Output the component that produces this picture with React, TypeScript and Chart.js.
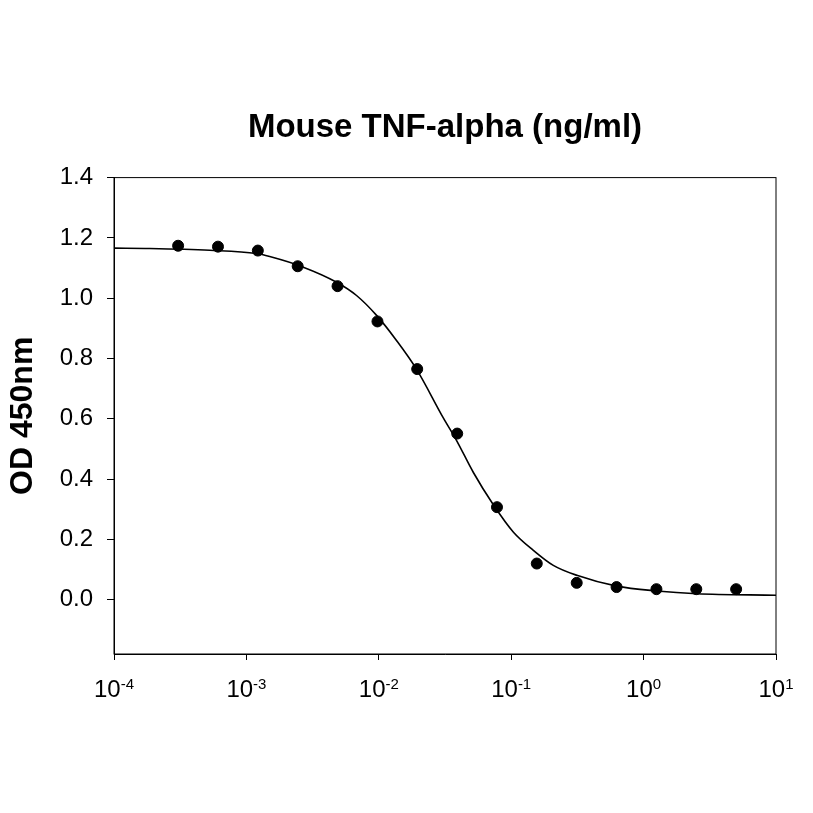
import { useEffect, useRef } from "react";
import { Chart, registerables } from "chart.js";

Chart.register(...registerables);

// measured points (ng/ml, OD 450nm)
const concentrations = [0.000305, 0.00061, 0.00122, 0.00244, 0.00488, 0.00977, 0.0195, 0.0391, 0.0781, 0.156, 0.3125, 0.625, 1.25, 2.5, 5];
const odValues = [1.174, 1.171, 1.158, 1.106, 1.04, 0.923, 0.765, 0.551, 0.307, 0.12, 0.056, 0.042, 0.035, 0.035, 0.035];

// fitted curve
const curveX = [1e-4, 1.86e-4, 5.28e-4, 1.19e-3, 1.5e-3, 2.69e-3, 4.8e-3, 6.79e-3, 9.62e-3, 1.36e-2, 1.93e-2, 3.07e-2, 3.87e-2, 5.18e-2, 7.33e-2, 0.104, 0.147, 0.208, 0.313, 0.627, 1.26, 2.52, 10];
const curveY = [1.166, 1.165, 1.159, 1.148, 1.138, 1.103, 1.053, 1.009, 0.943, 0.86, 0.764, 0.603, 0.528, 0.422, 0.315, 0.224, 0.164, 0.114, 0.081, 0.045, 0.029, 0.02, 0.015];

const xTicks = [1e-4, 1e-3, 1e-2, 1e-1, 1, 10];
const xExponents = ["-4", "-3", "-2", "-1", "0", "1"];
const yTicks = [0, 0.2, 0.4, 0.6, 0.8, 1.0, 1.2, 1.4];

const FONT = "Arial, 'Liberation Sans', sans-serif";

const framePlugin = {
  id: "frame",
  afterDraw(chart: any) {
    const { ctx, chartArea } = chart;
    ctx.save();
    ctx.strokeStyle = "#000";
    ctx.lineWidth = 1;
    ctx.strokeRect(chartArea.left, chartArea.top, chartArea.right - chartArea.left, chartArea.bottom - chartArea.top);

    // x tick labels with superscript exponents
    const xs = chart.scales.x;
    ctx.fillStyle = "#000";
    ctx.textBaseline = "alphabetic";
    ctx.textAlign = "left";
    xTicks.forEach((v, i) => {
      const px = xs.getPixelForValue(v);
      ctx.font = `24px ${FONT}`;
      const wBase = ctx.measureText("10").width;
      ctx.font = `15px ${FONT}`;
      const wExp = ctx.measureText(xExponents[i]).width;
      const start = px - (wBase + wExp) / 2;
      ctx.font = `24px ${FONT}`;
      ctx.fillText("10", start, 697);
      ctx.font = `15px ${FONT}`;
      ctx.fillText(xExponents[i], start + wBase, 689);
    });
    ctx.restore();
  },
};

export default function App() {
  const canvasRef = useRef<HTMLCanvasElement>(null);
  const chartRef = useRef<Chart | null>(null);

  useEffect(() => {
    document.body.style.margin = "0";
    if (!canvasRef.current) return;
    if (chartRef.current) chartRef.current.destroy();

    chartRef.current = new Chart(canvasRef.current, {
      type: "scatter",
      data: {
        datasets: [
          {
            type: "line",
            data: curveX.map((x, i) => ({ x, y: curveY[i] })),
            borderColor: "#000",
            borderWidth: 1.6,
            pointRadius: 0,
            cubicInterpolationMode: "monotone",
            fill: false,
          },
          {
            data: concentrations.map((x, i) => ({ x, y: odValues[i] })),
            backgroundColor: "#000",
            borderColor: "#000",
            pointRadius: 5.5,
            showLine: false,
          },
        ],
      },
      options: {
        responsive: false,
        animation: false,
        layout: { padding: { left: 0, top: 0, right: 37, bottom: 0 } },
        plugins: {
          legend: { display: false },
          tooltip: { enabled: false },
          title: {
            display: true,
            text: "Mouse TNF-alpha (ng/ml)",
            color: "#000",
            fullSize: false,
            font: { family: FONT, size: 33, weight: "bold" },
            padding: { top: 108, bottom: 30 },
          },
        },
        scales: {
          x: {
            type: "logarithmic",
            min: 1e-4,
            max: 10,
            afterBuildTicks: (s: any) => {
              s.ticks = xTicks.map((value) => ({ value }));
            },
            afterFit: (s: any) => {
              s.height = 159;
            },
            ticks: { display: false },
            grid: { drawOnChartArea: false, drawTicks: true, tickLength: 6, color: "#000" },
            border: { display: true, color: "#000", width: 1 },
          },
          y: {
            min: -0.18,
            max: 1.4,
            afterBuildTicks: (s: any) => {
              s.ticks = yTicks.map((value) => ({ value }));
            },
            afterFit: (s: any) => {
              s.width = 114;
            },
            ticks: {
              color: "#000",
              padding: 14,
              font: { family: FONT, size: 24 },
              callback: (v: any) => Number(v).toFixed(1),
            },
            grid: { drawOnChartArea: false, drawTicks: true, tickLength: 7, color: "#000" },
            border: { display: true, color: "#000", width: 1 },
            title: {
              display: true,
              text: "OD 450nm",
              color: "#000",
              font: { family: FONT, size: 32, weight: "bold" },
              padding: { top: 4, bottom: 0 },
            },
          },
        },
      },
      plugins: [framePlugin],
    });

    return () => {
      if (chartRef.current) {
        chartRef.current.destroy();
        chartRef.current = null;
      }
    };
  }, []);

  return (
    <div style={{ width: 813, height: 813, background: "#fff" }}>
      <canvas ref={canvasRef} width={813} height={813}></canvas>
    </div>
  );
}
